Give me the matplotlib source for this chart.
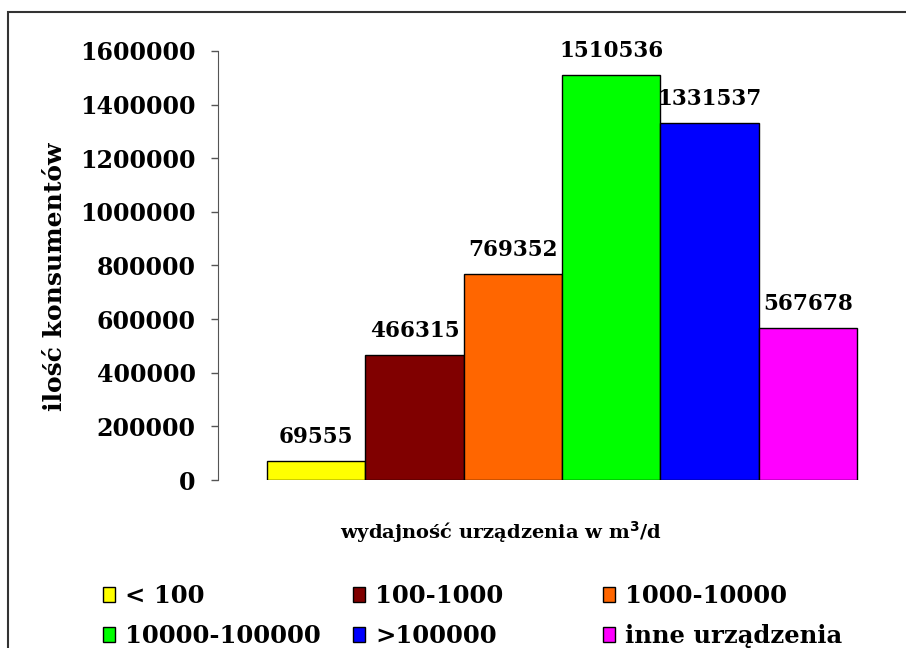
import matplotlib
matplotlib.use('Agg')
import matplotlib.pyplot as plt
from matplotlib.patches import Rectangle

categories = ['< 100', '100-1000', '1000-10000', '10000-100000', '>100000', 'inne urządzenia']
values = [69555, 466315, 769352, 1510536, 1331537, 567678]
bar_colors = ['#FFFF00', '#800000', '#FF6600', '#00FF00', '#0000FF', '#FF00FF']
y_ticks = [0, 200000, 400000, 600000, 800000, 1000000, 1200000, 1400000, 1600000]

plt.rcParams['font.family'] = ['DejaVu Serif']
plt.rcParams['font.weight'] = 'bold'

W, H = 906, 648
fig = plt.figure(figsize=(W / 100, H / 100), dpi=100)

# ramka wokół wykresu
fig.patches.append(Rectangle((8 / W, -0.1), 1.2, 1 - 12 / H + 0.1, transform=fig.transFigure,
                             fill=False, edgecolor='#333333', linewidth=1.5))

ax = fig.add_axes([218 / W, 1 - 480 / H, 1 - 218 / W, (480 - 51) / H])

x = list(range(len(values)))
bars = ax.bar(x, values, width=1.0, color=bar_colors, edgecolor='black', linewidth=1.0,
              label=categories)

for xi, v in zip(x, values):
    ax.annotate(str(v), (xi, v), xytext=(0, 13), textcoords='offset points',
                ha='center', va='baseline', fontsize=15.5, fontweight='bold')

ax.set_xlim(-1, 6)
ax.set_ylim(0, 1600000)
ax.set_yticks(y_ticks)
ax.set_yticklabels([str(t) for t in y_ticks])
ax.tick_params(axis='y', labelsize=17, length=5, width=1, color='#555555', pad=11)
ax.set_xticks([])
for s in ['top', 'right', 'bottom']:
    ax.spines[s].set_visible(False)
ax.spines['left'].set_color('#555555')
ax.patch.set_visible(False)

fig.text(55 / W, 1 - 277 / H, 'ilość konsumentów', rotation=90, ha='center', va='center',
         fontsize=18, fontweight='bold')
fig.text(501 / W, 1 - 532 / H, 'wydajność urządzenia w m$^{\\mathbf{3}}$/d', ha='center', va='center',
         fontsize=14, fontweight='bold')

col_x = [103, 353, 603]
for c in range(3):
    fig.legend([bars[c], bars[c + 3]], [categories[c], categories[c + 3]],
               loc='upper left', bbox_to_anchor=(col_x[c] / W, 1 - 584 / H),
               frameon=False, fontsize=17.5, handlelength=0.5, handleheight=0.6,
               handletextpad=0.42, labelspacing=0.66, borderpad=0, borderaxespad=0)

fig.savefig('out.png', dpi=100)
